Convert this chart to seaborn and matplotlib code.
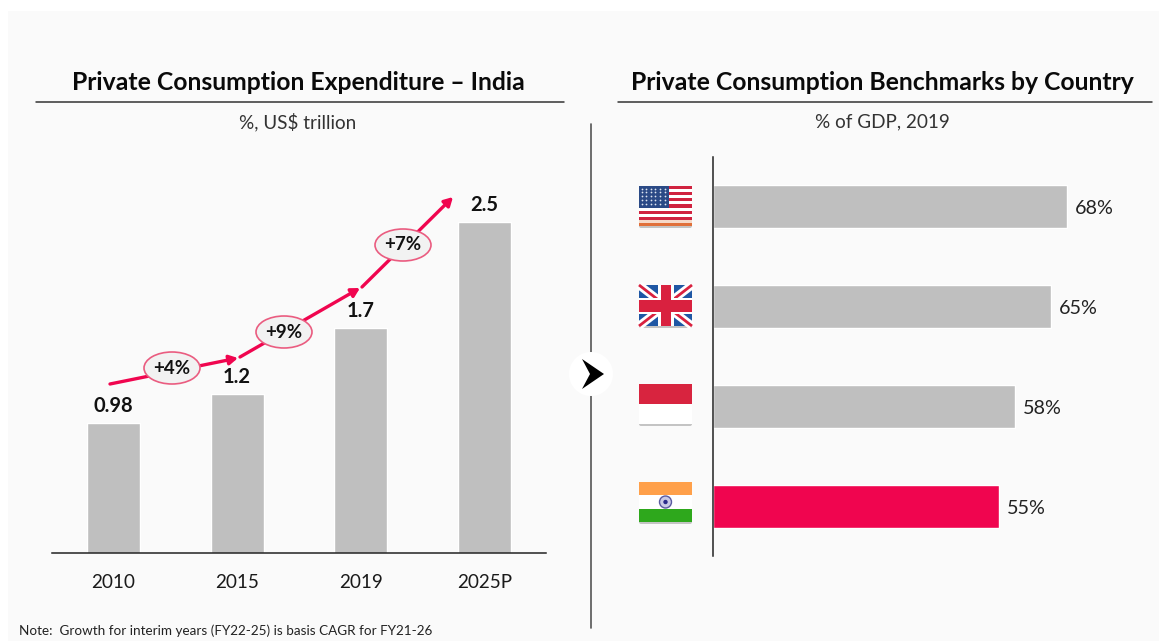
import matplotlib
matplotlib.use("Agg")
import matplotlib.pyplot as plt
from matplotlib.patches import Rectangle, Ellipse, Polygon, Circle, FancyBboxPatch
import numpy as np
import pandas as pd
import seaborn as sns

years = ["2010", "2015", "2019", "2025P"]
spend = [0.98, 1.2, 1.7, 2.5]
spend_labels = ["0.98", "1.2", "1.7", "2.5"]
growth_labels = ["+4%", "+9%", "+7%"]
countries = ["USA", "UK", "Indonesia", "India"]
shares = [68, 65, 58, 55]
share_labels = ["68%", "65%", "58%", "55%"]

GRAY = "#bfbfbf"
RED = "#f0054f"
W, H = 1159, 641
FONT = "Lato"

sns.set_theme(style="white")
plt.rcParams["font.family"] = [FONT, "DejaVu Sans"]

fig = plt.figure(figsize=(W / 100, H / 100), dpi=100, facecolor="white")


def axes_px(x0, y0, x1, y1, **kw):
    return fig.add_axes([x0 / W, 1 - y1 / H, (x1 - x0) / W, (y1 - y0) / H], **kw)


# background panel
bg = fig.add_axes([0, 0, 1, 1], zorder=0)
bg.set_xlim(0, W); bg.set_ylim(H, 0); bg.axis("off")
bg.add_patch(Rectangle((8, 11), W - 8, H - 11, fc="#fafafa", ec="none"))

# left chart
left_df = pd.DataFrame({"year": years, "spend": spend})
axl = axes_px(52, 130, 546, 553, zorder=1)
axl.patch.set_alpha(0)
sns.barplot(data=left_df, x="year", y="spend", color=GRAY, saturation=1, width=0.43, ax=axl)
axl.set_xlim(-0.497, 3.497)
axl.set_ylim(0, 423 / 132.5)
axl.set(xlabel="", ylabel="", yticks=[])
axl.tick_params(axis="x", length=0, pad=15, labelsize=13.6, labelcolor="#1a1a1a")
sns.despine(ax=axl, left=True)
axl.spines["bottom"].set_color("#222222")
axl.spines["bottom"].set_linewidth(1.1)
axl.bar_label(axl.containers[0], labels=spend_labels, padding=5, fontsize=14.5,
              fontweight="bold", color="#111111")

# right chart
right_df = pd.DataFrame({"country": countries, "share": shares})
axr = axes_px(713, 157, 1150, 556, zorder=1)
axr.patch.set_alpha(0)
sns.barplot(data=right_df, y="country", x="share", hue="country", legend=False, orient="h",
            palette=[GRAY, GRAY, GRAY, RED], saturation=1, width=0.43, ax=axr)
axr.set_xlim(0, 437 / 5.2)
axr.set_ylim(3.5, -0.5)
axr.set(xlabel="", ylabel="", xticks=[], yticks=[])
sns.despine(ax=axr, bottom=True)
axr.spines["left"].set_color("#222222")
axr.spines["left"].set_linewidth(1.1)
for cont, lab in zip(axr.containers, share_labels):
    for ann in axr.bar_label(cont, labels=[lab], padding=6, fontsize=14.2, color="#222222"):
        ann.xyann = (ann.xyann[0], ann.xyann[1] - 1.5)

# overlay in pixel coordinates
ov = fig.add_axes([0, 0, 1, 1], zorder=2)
ov.set_xlim(0, W); ov.set_ylim(H, 0); ov.axis("off"); ov.patch.set_alpha(0)

# headings
ov.text(298.5, 82.5, "Private Consumption Expenditure – India", ha="center", va="center",
        fontsize=17.85, fontweight="bold", color="#0a0a0a")
ov.text(882, 82.5, "Private Consumption Benchmarks by Country", ha="center", va="center",
        fontsize=17.85, fontweight="bold", color="#0a0a0a")
ov.plot([36, 564], [102, 102], color="#333333", lw=1.1)
ov.plot([618, 1152], [102, 102], color="#333333", lw=1.1)
ov.text(298, 122, "%, US$ trillion", ha="center", va="center", fontsize=13.6, color="#333333")
ov.text(882, 122, "% of GDP, 2019", ha="center", va="center", fontsize=13.6, color="#333333")
ov.text(19, 631, "Note:  Growth for interim years (FY22-25) is basis CAGR for FY21-26",
        ha="left", va="center", fontsize=9.7, color="#222222")

# separator and chevron
ov.plot([591, 591], [124, 628], color="#555555", lw=1.2)
ov.add_patch(Circle((591, 374), 22, fc="white", ec="none", zorder=3))
ov.add_patch(Polygon([(582, 359), (604, 374), (582, 389), (590, 374)], fc="black", ec="none", zorder=4))

# growth arrows
segs = [((110, 384), (238, 358)), ((240, 357), (360, 288)), ((362, 287), (453, 197))]
for a, b in segs:
    ov.annotate("", xy=b, xytext=a,
                arrowprops=dict(arrowstyle="-|>,head_length=0.45,head_width=0.25", color=RED, lw=2.4,
                                shrinkA=0, shrinkB=0, mutation_scale=11))
for (cx, cy), lab in zip([(172, 368), (284, 332), (403, 245)], growth_labels):
    ov.add_patch(Ellipse((cx, cy), 56, 32, fc="#f2f2f2", ec="#ea5c80", lw=1.2, zorder=3))
    ov.text(cx, cy, lab, ha="center", va="center", fontsize=13.5, fontweight="bold",
            color="#111111", zorder=4)


# flags
def rect(x, y, w, h, c, z=3):
    ov.add_patch(Rectangle((x, y), w, h, fc=c, ec="none", zorder=z))


FX, FW = 639, 53
# shadows
for y, h in [(186, 41), (285, 42), (384, 41), (482, 41)]:
    ov.add_patch(FancyBboxPatch((FX, y + 1), FW, h, boxstyle="round,pad=0,rounding_size=2",
                                fc="#c4c4c4", ec="none", zorder=2.5))

# USA
y0, fh = 186, 40
sh = fh / 13
for i in range(13):
    col = "#d0223f" if i % 2 == 0 else "white"
    if i >= 11:
        col = "#e0703a" if i == 12 else "#f6d9c8"
    rect(FX, y0 + i * sh, FW, sh + 0.2, col)
rect(FX, y0, 30, sh * 7, "#2b4a86")
sx, sy = np.meshgrid(np.arange(FX + 2.5, FX + 30, 4.6), np.arange(y0 + 2.5, y0 + sh * 7, 3.9))
ov.scatter(sx.ravel(), sy.ravel(), s=1.6, c="#dfe6f2", linewidths=0, zorder=3.2)

# UK
y0, fh = 285, 41
rect(FX, y0, FW, fh, "#1f57a4")
ov.plot([FX, FX + FW], [y0, y0 + fh], color="white", lw=6, zorder=3.1, solid_capstyle="butt")
ov.plot([FX, FX + FW], [y0 + fh, y0], color="white", lw=6, zorder=3.1, solid_capstyle="butt")
ov.plot([FX, FX + FW], [y0, y0 + fh], color="#d9213f", lw=2, zorder=3.2, solid_capstyle="butt")
ov.plot([FX, FX + FW], [y0 + fh, y0], color="#d9213f", lw=2, zorder=3.2, solid_capstyle="butt")
rect(FX + FW / 2 - 8, y0, 16, fh, "white", 3.3)
rect(FX, y0 + fh / 2 - 8, FW, 16, "white", 3.3)
rect(FX + FW / 2 - 5, y0, 10, fh, "#d9213f", 3.4)
rect(FX, y0 + fh / 2 - 6, FW, 12, "#d9213f", 3.4)

# Indonesia
y0, fh = 384, 40
rect(FX, y0, FW, fh / 2, "#d8243f")
rect(FX, y0 + fh / 2, FW, fh / 2, "white")

# India
y0, fh = 482, 40
rect(FX, y0, FW, 13, "#ffa04a")
rect(FX, y0 + 13, FW, 14, "white")
rect(FX, y0 + 27, FW, 13, "#2ea81c")
ov.add_patch(Circle((FX + FW / 2, y0 + 20), 6, fc="#c9c9e6", ec="#5a5aa0", lw=1, zorder=3.5))
ov.add_patch(Circle((FX + FW / 2, y0 + 20), 2.2, fc="#2c2c8c", ec="none", zorder=3.6))

fig.savefig("out.png", dpi=100)
